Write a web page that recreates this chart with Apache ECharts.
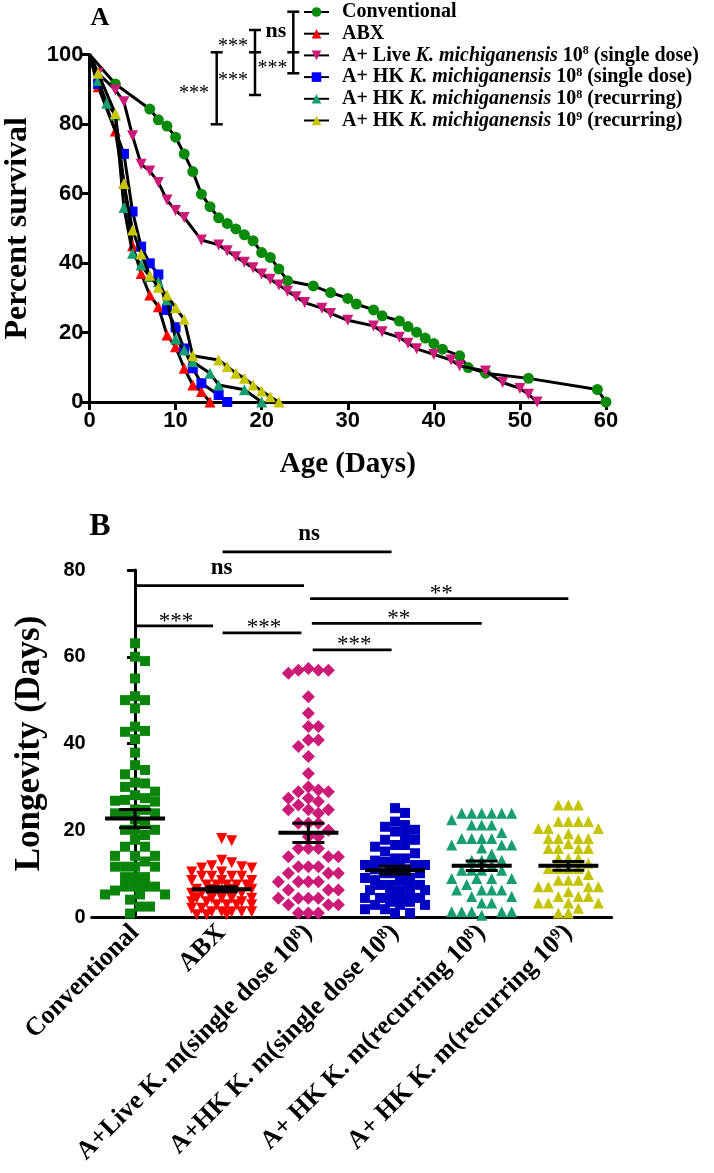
<!DOCTYPE html>
<html><head><meta charset="utf-8">
<script src="https://cdn.jsdelivr.net/npm/echarts@6/dist/echarts.min.js"></script>
<style>html,body{margin:0;padding:0;background:#fff}#c{width:714px;height:1173px}</style>
</head><body><div id="c"></div>
<script>
// ---------- Panel A: survival curves [day, percent survival] ----------
const survConventional = [[0,100],[3,91.5],[7,84.3],[8,81.2],[9,79.4],[10,76.2],[11,71.4],[12,66.3],[13,59.8],[14,56.2],[15,53.0],[16,51.4],[17,49.8],[18,48.1],[19,46.4],[20,43.0],[21,41.6],[22,38.3],[23,34.9],[26,33.4],[28,31.5],[30,29.8],[31,28.2],[33,26.5],[34,24.8],[36,23.3],[37,21.7],[38,20.1],[39,18.4],[40,16.8],[41,15.2],[43,13.3],[44,9.9],[46,8.3],[51,6.8],[59,3.6],[60,0]];
const survABX = [[0,100],[1,90.7],[3,78.0],[4,63.0],[5,45.0],[6,37.0],[7,30.8],[8,27.4],[9,19.3],[10,15.9],[11,9.7],[12,4.9],[13,3.0],[14,0]];
const survLiveSingle = [[0,100],[1,94.6],[3,89.8],[4,86.4],[5,76.6],[6,68.4],[7,66.5],[8,63.2],[9,58.1],[10,55.1],[11,53.1],[13,46.6],[15,45.2],[16,43.5],[17,41.8],[18,40.2],[19,38.6],[20,36.8],[21,35.3],[22,33.7],[23,31.9],[24,30.3],[25,28.6],[27,27.0],[28,25.5],[30,23.5],[33,21.9],[34,20.2],[36,18.6],[37,16.9],[38,15.3],[40,13.7],[42,12.1],[43,10.4],[46,8.9],[48,5.6],[50,3.9],[51,2.2],[52,0]];
const survHKSingle = [[0,100],[1,91.5],[4,71.4],[5,54.8],[6,44.7],[7,39.9],[8,36.7],[9,26.5],[10,21.5],[11,15.4],[12,9.7],[13,5.4],[15,2.0],[16,0]];
const survHKRec8 = [[0,100],[1,92.5],[2,86.0],[3,82.6],[4,56.0],[5,42.8],[6,39.4],[7,36.1],[8,34.6],[9,29.4],[10,18.1],[11,15.0],[12,11.6],[14,8.3],[15,4.9],[18,3.5],[20,0]];
const survHKRec9 = [[0,100],[1,94.6],[3,83.0],[4,62.9],[5,49.5],[6,42.6],[7,36.5],[8,33.0],[9,30.8],[10,27.1],[11,23.8],[12,13.3],[15,12.1],[16,10.2],[17,8.3],[18,6.8],[19,4.9],[20,3.2],[21,1.5],[22,0]];
const legendNames = ['Conventional','ABX','A+ Live K. michiganensis 10^8 (single dose)','A+ HK K. michiganensis 10^8 (single dose)','A+ HK K. michiganensis 10^8 (recurring)','A+ HK K. michiganensis 10^9 (recurring)'];
const ageTicks = [0,10,20,30,40,50,60];
const survTicks = [0,20,40,60,80,100];

// ---------- Panel B: longevity (days) per fly ----------
const categories = ['Conventional','ABX','A+Live K. m(single dose 10^8)','A+HK K. m(single dose 10^8)','A+ HK K. m(recurring 10^8)','A+ HK K. m(recurring 10^9)'];
const longConventional = [63.1,60.0,59.0,55.0,50.9,50.0,50.0,48.1,43.9,42.9,42.7,41.0,37.9,35.0,33.9,32.9,31.0,30.8,30.0,28.9,28.1,27.4,27.0,26.8,26.6,24.8,24.7,23.9,23.9,23.9,22.5,21.5,20.1,20.1,20.1,18.9,17.8,16.2,16.2,14.1,14.1,14.1,12.8,11.6,11.6,11.6,11.6,9.2,9.2,9.2,7.0,7.0,7.0,7.0,6.1,5.2,5.2,5.2,4.0,2.4,2.4,0.8];
const longABX = [18.1,17.6,13.1,12.5,11.8,11.6,11.3,11.3,10.4,10.4,9.4,9.4,9.4,9.4,8.4,8.4,8.4,7.4,7.4,7.4,7.4,7.4,6.4,6.4,6.4,6.4,5.5,5.5,5.5,5.5,4.3,4.3,4.3,4.3,4.3,3.5,3.5,3.5,2.8,2.8,2.8,2.8,2.0,2.0,1.2,1.2,1.2,1.2,1.2,0.5,0.5,0.5];
const longLiveSingle = [57.3,56.9,56.9,56.9,56.2,50.8,47.0,43.9,43.9,40.8,40.8,39.3,37.0,33.1,30.0,29.3,28.9,28.9,27.4,27.4,26.6,25.8,24.7,24.7,24.7,23.9,21.6,21.6,21.6,20.0,18.5,18.5,15.8,15.8,15.8,13.9,13.9,13.9,11.6,11.6,11.6,10.1,10.1,10.1,8.1,8.1,8.1,8.1,6.2,6.2,6.2,4.3,4.3,4.3,4.3,2.8,2.8,2.8,0.9,0.9,0.9];
const longHKSingle = [25.1,24.0,22.0,21.2,20.8,20.1,19.7,18.9,17.8,17.8,16.6,16.6,16.2,15.1,14.7,13.5,13.5,13.0,12.7,12.0,12.0,12.0,12.0,12.0,11.0,11.0,10.1,10.1,10.1,9.0,9.0,8.5,8.5,7.4,7.4,7.4,7.4,6.2,6.2,6.2,5.3,5.3,4.4,4.4,4.4,4.4,3.5,3.5,2.8,2.8,2.8,1.8,1.8,0.9,0.9];
const longHKRec8 = [23.9,23.9,23.9,23.9,23.9,23.9,22.4,21.2,21.2,21.2,19.5,18.1,18.1,18.1,18.1,16.6,16.6,16.6,15.9,14.5,13.1,13.1,13.1,12.0,10.8,10.8,10.8,10.8,8.9,8.9,8.9,8.9,7.5,6.2,6.2,6.2,6.2,4.7,4.7,3.2,3.2,1.2,1.2,1.2,1.2,1.2,0.4];
const longHKRec9 = [25.8,25.8,25.8,22.0,22.0,22.0,22.0,20.4,20.4,20.4,19.2,18.1,18.1,18.1,18.1,16.9,15.8,15.8,15.8,15.8,13.5,13.5,13.5,12.4,11.2,11.2,11.2,11.2,9.8,8.5,8.5,8.5,7.0,7.0,7.0,7.0,5.8,4.7,4.7,4.7,3.2,3.2,3.2,3.2,2.0,0.9,0.9];
const groupMeans = [22.7,6.4,19.4,10.8,11.8,11.8];
const groupSEM = [2.1,0.6,2.2,0.9,1.1,1.0];
const longTicks = [0,20,40,60,80];
// significance bars: from / to (category index), height (days), label
const sigFrom = [1.01,0.00,0.00,1.01,2.02,2.04,2.05];
const sigTo   = [2.96,1.95,0.90,1.92,5.00,4.00,2.96];
const sigY    = [84.2,76.4,67.1,65.5,73.4,67.7,61.6];
const sigText = ['ns','ns','***','***','**','**','***'];

// ---------- styles ----------
const SERIF = "'Liberation Serif','Times New Roman',serif";
const SANS = "'Liberation Sans',Arial,sans-serif";
const survColors = ['#0a8a0a','#ff0000','#cc1a78','#0000ff','#169e70','#c6c600'];
const survSymbols = ['circle','triangle','triangle','rect','triangle','triangle'];
const survRot = [0,0,180,0,0,0];
const survSizes = [11,11,11,10,11,11];
const longColors = ['#0a840a','#ff0000','#cc1a78','#0000c4','#169e70','#c4c400'];
const longSymbols = ['rect','triangle','diamond','rect','triangle','triangle'];
const longRot = [0,180,0,0,0,0];
const longSizes = [10,11,13,10,11,11];
const survData = [survConventional,survABX,survLiveSingle,survHKSingle,survHKRec8,survHKRec9];
const longData = [longConventional,longABX,longLiveSingle,longHKSingle,longHKRec8,longHKRec9];

function richify(str, base, ital, sup){
  let out='', last=0, m; const re=/(K\. michiganensis)|\^(\d)/g;
  while((m=re.exec(str))){
    if(m.index>last) out+='{'+base+'|'+str.slice(last,m.index)+'}';
    out += m[1] ? '{'+ital+'|'+m[1]+'}' : '{'+sup+'|'+m[2]+'}';
    last=re.lastIndex;
  }
  if(last<str.length) out+='{'+base+'|'+str.slice(last)+'}';
  return out;
}

const axisLine = {lineStyle:{color:'#000',width:3}};
const axisTick = {length:8,lineStyle:{color:'#000',width:3}};

const chart = echarts.init(document.getElementById('c'),null,{renderer:'canvas'});

const series = [];
survData.forEach((d,i)=>{
  series.push({
    type:'line', name:legendNames[i], xAxisIndex:0, yAxisIndex:0,
    data:d.map((p,j)=> j===0 ? {value:p, symbol:'none'} : p),
    symbol:survSymbols[i], symbolSize:survSizes[i], symbolRotate:survRot[i],
    itemStyle:{color:survColors[i]}, lineStyle:{color:'#000',width:3},
    clip:false, z:2+i
  });
});
longData.forEach((d,i)=>{
  series.push({
    id:'sc'+i, type:'scatter', xAxisIndex:2, yAxisIndex:1, data:[],
    symbol:longSymbols[i], symbolSize:longSizes[i], symbolRotate:longRot[i],
    itemStyle:{color:longColors[i], opacity:1}, clip:false, z:3
  });
});
series.push({
  type:'custom', xAxisIndex:2, yAxisIndex:1, z:10, clip:false,
  data: groupMeans.map((m,i)=>[i,m,groupSEM[i]]),
  renderItem:(params,api)=>{
    const c=api.coord([api.value(0),api.value(1)]);
    const t=api.coord([api.value(0),api.value(1)+api.value(2)]);
    const b=api.coord([api.value(0),api.value(1)-api.value(2)]);
    const st={stroke:'#000',lineWidth:3};
    return {type:'group',children:[
      {type:'line',shape:{x1:c[0]-30,y1:c[1],x2:c[0]+30,y2:c[1]},style:{stroke:'#000',lineWidth:4}},
      {type:'line',shape:{x1:c[0],y1:t[1],x2:c[0],y2:b[1]},style:st},
      {type:'line',shape:{x1:c[0]-16,y1:t[1],x2:c[0]+16,y2:t[1]},style:st},
      {type:'line',shape:{x1:c[0]-16,y1:b[1],x2:c[0]+16,y2:b[1]},style:st}
    ]};
  }
});
series.push({
  type:'custom', xAxisIndex:2, yAxisIndex:1, z:10, clip:false,
  data: sigFrom.map((f,i)=>[f,sigTo[i],sigY[i]]),
  renderItem:(params,api)=>{
    const p1=api.coord([api.value(0),api.value(2)]);
    const p2=api.coord([api.value(1),api.value(2)]);
    const txt=sigText[params.dataIndex]; const isNs = txt==='ns';
    return {type:'group',children:[
      {type:'line',shape:{x1:p1[0],y1:p1[1],x2:p2[0],y2:p2[1]},style:{stroke:'#000',lineWidth:2.7}},
      {type:'text',x:(p1[0]+p2[0])/2+2,y:p1[1]-(isNs?17.5:4.5),style:{text:txt,align:'center',verticalAlign:'middle',
        fontFamily:SERIF,fontSize:23,fontWeight:isNs?'bold':'normal',fill:'#000'}}
    ]};
  }
});

// Panel A significance brackets (annotation)
function bracket(x,ys,cap){
  const els=[{type:'line',shape:{x1:x,y1:ys[0],x2:x,y2:ys[ys.length-1]},style:{stroke:'#000',lineWidth:2.5}}];
  ys.forEach(y=>els.push({type:'line',shape:{x1:x-cap,y1:y,x2:x+cap,y2:y},style:{stroke:'#000',lineWidth:2.5}}));
  return els;
}
function atext(t,x,y,bold,size){
  return {type:'text',x:x,y:y,style:{text:t,align:'center',verticalAlign:'middle',fontFamily:SERIF,fontSize:size,fontWeight:bold?'bold':'normal',fill:'#000'}};
}
const graphics = [].concat(
  bracket(216.7,[52.3,124.3],6),
  bracket(255,[30,52.3,95],6),
  bracket(293.3,[11.7,52.3,73.3],6),
  [atext('***',194,94,false,20), atext('***',233,46.5,false,20), atext('***',233,81,false,20),
   atext('ns',276,31,true,22), atext('***',272.5,69,false,20),
   atext('A',100,18,true,26), atext('B',100,527,true,32)]
);

const option = {
  animation:false,
  backgroundColor:'#fff',
  grid:[{left:89.5,top:54.5,width:516.5,height:347.5,outerBoundsMode:'none',containLabel:false},
        {left:91.7,top:570,width:520,height:347,outerBoundsMode:'none',containLabel:false}],
  legend:{
    data:legendNames, orient:'vertical', left:303, top:2, itemGap:1.7, itemWidth:25, itemHeight:12,
    selectedMode:false, padding:0,
    formatter:(n)=>'{sp|}'+richify(n,'b','i','s'),
    textStyle:{rich:{
      sp:{width:8},
      b:{fontFamily:SERIF,fontWeight:'bold',fontSize:20,color:'#000',lineHeight:20},
      i:{fontFamily:SERIF,fontWeight:'bold',fontStyle:'italic',fontSize:20,color:'#000',lineHeight:20},
      s:{fontFamily:SERIF,fontWeight:'bold',fontSize:12,color:'#000',lineHeight:12,verticalAlign:'top'}
    }}
  },
  xAxis:[
    {type:'value',gridIndex:0,min:ageTicks[0],max:ageTicks[ageTicks.length-1],interval:ageTicks[1]-ageTicks[0],
     axisLine:axisLine,axisTick:axisTick,splitLine:{show:false},
     axisLabel:{fontFamily:SANS,fontWeight:'bold',fontSize:22,color:'#000',margin:8},
     name:'Age (Days)',nameLocation:'middle',nameGap:48,
     nameTextStyle:{fontFamily:SERIF,fontWeight:'bold',fontSize:29,color:'#000'}},
    {type:'category',gridIndex:1,data:categories,boundaryGap:true,
     axisLine:axisLine,axisTick:{alignWithLabel:true,length:8,lineStyle:{color:'#000',width:3}},
     axisLabel:{interval:0,rotate:45,margin:12,
       formatter:(v)=>richify(v,'b','b','s'),
       rich:{b:{fontFamily:SERIF,fontWeight:'bold',fontSize:26,color:'#000',lineHeight:26},
             s:{fontFamily:SERIF,fontWeight:'bold',fontSize:16,color:'#000',lineHeight:16,verticalAlign:'top'}}}},
    {type:'value',gridIndex:1,min:-0.5,max:5.5,show:false}
  ],
  yAxis:[
    {type:'value',gridIndex:0,min:survTicks[0],max:survTicks[survTicks.length-1],interval:survTicks[1]-survTicks[0],
     axisLine:{show:true,lineStyle:{color:'#000',width:3}},axisTick:{show:true,length:8,lineStyle:{color:'#000',width:3}},splitLine:{show:false},
     axisLabel:{fontFamily:SANS,fontWeight:'bold',fontSize:22,color:'#000',margin:6},
     name:'Percent survival',nameLocation:'middle',nameGap:56,nameRotate:90,
     nameTextStyle:{fontFamily:SERIF,fontWeight:'bold',fontSize:32,color:'#000'}},
    {type:'value',gridIndex:1,min:longTicks[0],max:longTicks[longTicks.length-1],interval:longTicks[1]-longTicks[0],
     axisLine:{show:true,lineStyle:{color:'#000',width:3}},axisTick:{show:true,length:8,lineStyle:{color:'#000',width:3}},splitLine:{show:false},
     axisLabel:{fontFamily:SANS,fontWeight:'bold',fontSize:20,color:'#000',margin:6},
     name:'Longevity (Days)',nameLocation:'middle',nameGap:44,nameRotate:90,
     nameTextStyle:{fontFamily:SERIF,fontWeight:'bold',fontSize:35,color:'#000'}}
  ],
  graphic:graphics,
  series:series
};
chart.setOption(option);

// ---- column-scatter layout (beeswarm) using the chart's own scales ----
const o0 = chart.convertToPixel({xAxisIndex:2,yAxisIndex:1},[0,0]);
const o1 = chart.convertToPixel({xAxisIndex:2,yAxisIndex:1},[1,10]);
const pxPerIdx = o1[0]-o0[0];
const pxPerVal = (o0[1]-o1[1])/10;
function swarm(vals,size){
  const idx = vals.map((v,i)=>i).sort((a,b)=>vals[b]-vals[a]);
  const placed=[]; const offs=new Array(vals.length);
  const h=size*0.5; const cands=[0];
  for(let k=1;k<=6;k++){cands.push(k*h,-k*h);}
  const col=size*0.92;
  idx.forEach(i=>{
    const y=vals[i]*pxPerVal; let best=0,bestScore=Infinity;
    for(const dx of cands){
      let s=0;
      for(const p of placed){const ox=col-Math.abs(p.x-dx), oy=col-Math.abs(p.y-y); if(ox>0&&oy>0) s+=ox*oy;}
      s+=Math.abs(dx)*0.02;
      if(s<bestScore-1e-6){bestScore=s;best=dx;}
    }
    placed.push({x:best,y:y}); offs[i]=best;
  });
  return offs;
}
chart.setOption({series: longData.map((vals,g)=>{
  const offs=swarm(vals,10);
  return {id:'sc'+g, data: vals.map((v,i)=>[g+offs[i]/pxPerIdx, v])};
})});
</script></body></html>
